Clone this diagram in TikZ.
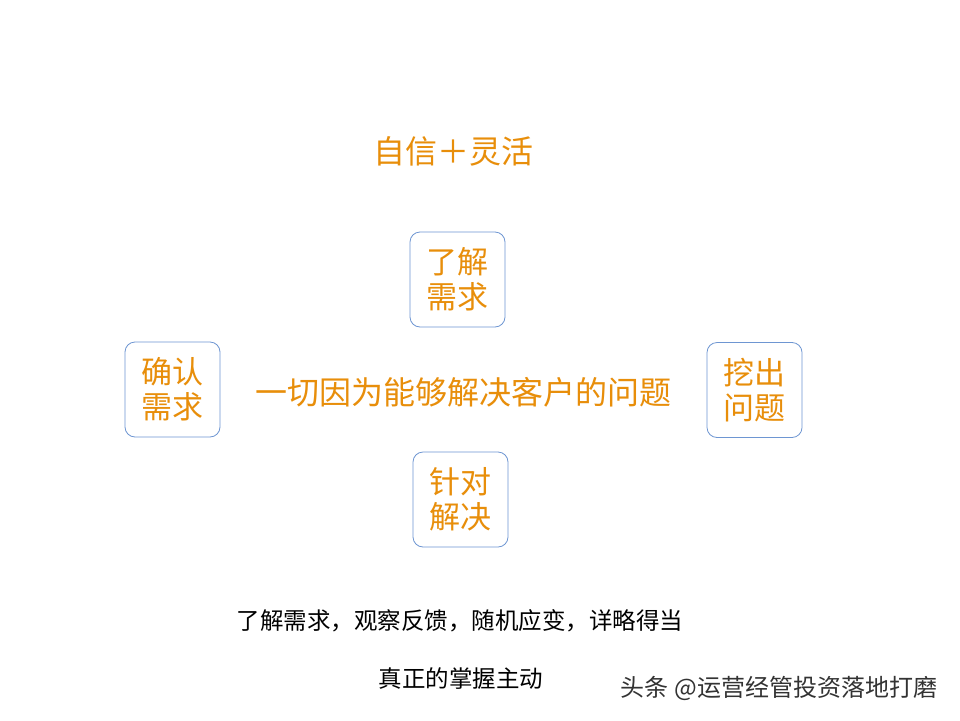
\documentclass[tikz,border=0pt]{standalone}
\usepackage{fontspec}
\setmainfont{Noto Sans CJK SC}
\begin{document}
\begin{tikzpicture}[x=1pt,y=-1pt,
  box/.style={draw=boxblue,line width=0.8pt,rounded corners=10pt,minimum width=95pt,minimum height=95pt,text=orng,font=\fontsize{31}{35}\selectfont,align=center,inner sep=0pt},
  otext/.style={text=orng,font=\fontsize{32}{36}\selectfont},
  btext/.style={text=black,font=\fontsize{23.5}{26}\selectfont}]
\definecolor{boxblue}{RGB}{110,150,210}
\definecolor{orng}{RGB}{232,142,10}
\useasboundingbox (0,0) rectangle (960,720);
\fill[white] (0,0) rectangle (960,720);
\node[otext] (title) at (453,151) {自信＋灵活};
\node[box] (top) at (457.5,279.5) {了解\\需求};
\node[box] (left) at (172.5,389.5) {确认\\需求};
\node[box] (right) at (754.5,390) {挖出\\问题};
\node[box] (bottom) at (460.5,499.5) {针对\\解决};
\node[otext] (center) at (463,392) {一切因为能够解决客户的问题};
\node[btext] (l1) at (460,621) {了解需求，观察反馈，随机应变，详略得当};
\node[btext] (l2) at (461,679) {真正的掌握主动};
\node[text=black!80,font=\fontsize{24}{26}\selectfont] (wm) at (779,688) {头条 @运营经管投资落地打磨};
\end{tikzpicture}
\end{document}
